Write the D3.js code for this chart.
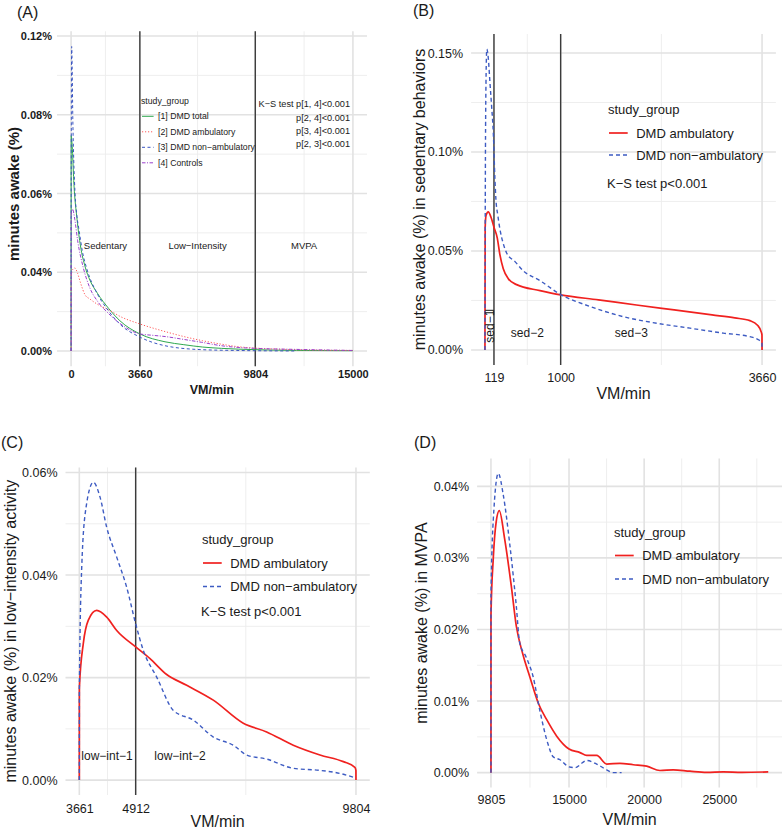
<!DOCTYPE html>
<html><head><meta charset="utf-8">
<script src="https://cdn.jsdelivr.net/npm/d3@7"></script>
<style>
body{margin:0;background:#fff}
text{font-family:"Liberation Sans",Arial,Helvetica,sans-serif;fill:#1a1a1a}
</style>
</head><body>
<svg id="chart" width="782" height="832"></svg>
<script>
// ---------------- DATA ----------------
// Panel A (all groups, full VM/min range)
const aGroups = ["[1] DMD total","[2] DMD ambulatory","[3] DMD non\u2212ambulatory","[4] Controls"];
const aTotalX   = [0,5,60,140,320,500,750,1000,1400,2000,2600,3660,5000,6000,7000,8000,9804,12000,15000];
const aTotalY   = [0,0.082,0.078,0.065,0.050,0.040,0.032,0.027,0.022,0.0162,0.0115,0.0065,0.0035,0.0024,0.0015,0.001,0.0005,0.0002,0.0001];
const aAmbX     = [0,5,80,200,350,500,750,1000,1400,2000,2600,3660,5000,6000,7000,8000,8800,9804,11000,12500,15000];
const aAmbY     = [0,0.0285,0.031,0.0316,0.0295,0.026,0.0213,0.0198,0.0178,0.0157,0.0132,0.0103,0.0074,0.0055,0.0039,0.0026,0.0017,0.0011,0.0007,0.0004,0.0002];
const aNonX     = [0,3,30,100,210,300,425,600,850,1380,1960,2600,3660,5000,6950,8800,9804,12000];
const aNonY     = [0,0.05,0.116,0.085,0.060,0.052,0.046,0.038,0.031,0.022,0.0156,0.0102,0.0053,0.002,0.0005,0.0002,0.0001,0];
const aCtrlX    = [0,5,80,200,350,640,1000,1400,1960,2600,3660,4300,5000,6000,6950,8000,8800,9804,12000,15000];
const aCtrlY    = [0,0.052,0.054,0.050,0.042,0.032,0.024,0.019,0.0145,0.0105,0.0065,0.006,0.0055,0.0044,0.0033,0.002,0.0014,0.001,0.0006,0.0002];
const aXTicks   = [0,3660,9804,15000];
const aXMinor   = [1830,6732,12402];
const aYTicks   = [0,0.03,0.06,0.09,0.12];
const aYLabels  = ["0.00%","0.04%","0.06%","0.08%","0.12%"];
const aYMinor   = [0.015,0.045,0.075,0.105];
const aCuts     = [3660,9804];
const aZones    = ["Sedentary","Low\u2212Intensity","MVPA"];
const aKS       = ["K\u2212S test p[1, 4]<0.001","p[2, 4]<0.001","p[3, 4]<0.001","p[2, 3]<0.001"];

// Panel B (sedentary)
const bAmbX = [0,3,15,44,80,119,163,198,242,308,418,727,1000,1500,2000,2500,3000,3300,3500,3600,3650,3659,3660];
const bAmbY = [0,0.062,0.068,0.0697,0.067,0.062,0.0565,0.048,0.041,0.036,0.033,0.030,0.0278,0.0253,0.0227,0.0202,0.0177,0.0162,0.0148,0.0125,0.009,0.0076,0];
const bNonX = [0,2,12,25,45,66,90,110,132,145,170,198,240,286,400,506,727,1000,1387,1828,2268,2708,3148,3500,3620,3659,3660];
const bNonY = [0,0.04,0.13,0.152,0.147,0.135,0.122,0.110,0.086,0.076,0.068,0.061,0.054,0.049,0.0445,0.040,0.035,0.028,0.022,0.0168,0.0135,0.011,0.0085,0.0067,0.005,0.0034,0];
const bXTicks = [119,1000,3660];
const bXMinor = [559.5,2330];
const bYTicks = [0,0.05,0.10,0.15];
const bYLabels = ["0.00%","0.05%","0.10%","0.15%"];
const bYMinor = [0.025,0.075,0.125];
const bCuts = [119,1000];
const bZones = ["sed\u22121","sed\u22122","sed\u22123"];

// Panel C (low intensity)
const cAmbX = [3661,3662,3750,3861,4047,4269,4491,4912,5231,5601,6045,6636,7302,7821,8412,9005,9524,9780,9803,9804];
const cAmbY = [0,0.018,0.0267,0.0312,0.0331,0.0318,0.0292,0.0260,0.0237,0.0206,0.0185,0.0156,0.0111,0.0094,0.0068,0.0049,0.0036,0.0025,0.0019,0];
const cNonX = [3661,3662,3714,3810,3972,4121,4269,4491,4713,4912,5082,5379,5749,6192,6636,7080,7376,7821,8412,9005,9450,9804];
const cNonY = [0,0.018,0.0415,0.0532,0.0581,0.0552,0.0493,0.0435,0.0376,0.0305,0.0253,0.0201,0.0136,0.0117,0.0084,0.0068,0.0049,0.0041,0.0023,0.0019,0.0013,0.0004];
const cXTicks = [3661,4912,9804];
const cXMinor = [4286.5,7358];
const cYTicks = [0,0.02,0.04,0.06];
const cYLabels = ["0.00%","0.02%","0.04%","0.06%"];
const cYMinor = [0.01,0.03,0.05];
const cCuts = [4912];
const cZones = ["low\u2212int\u22121","low\u2212int\u22122"];

// Panel D (MVPA)
const dAmbX = [9805,9806,9960,10150,10358,10713,11157,11490,11933,12405,12957,13517,14182,15000,15732,16178,16843,17508,18393,19280,20170,21055,21939,23050,24160,25270,26500,28260];
const dAmbY = [0,0.022,0.030,0.035,0.0366,0.0327,0.0261,0.0205,0.0165,0.0133,0.0097,0.0074,0.0051,0.0033,0.0028,0.0024,0.0024,0.0012,0.0013,0.0011,0.0009,0.0003,0.0004,0.0002,0.00005,0.0001,0.00005,0.0001];
const dNonX = [9805,9806,10005,10292,10624,11068,11490,11712,12156,12600,13046,13517,13955,14400,15000,15400,16178,16843,17508,17950,18500];
const dNonY = [0,0.025,0.0369,0.0418,0.0388,0.0317,0.0233,0.0182,0.0161,0.0135,0.0088,0.0046,0.0022,0.0018,0.0008,0.0007,0.0017,0.0012,0.0004,0,0];
const dXTicks = [9805,15000,20000,25000];
const dXMinor = [12402.5,17500,22500,27500];
const dYTicks = [0,0.01,0.02,0.03,0.04];
const dYLabels = ["0.00%","0.01%","0.02%","0.03%","0.04%"];
const dYMinor = [0.005,0.015,0.025,0.035];

const groups2 = ["DMD ambulatory","DMD non\u2212ambulatory"];
const ksText = "K\u2212S test p<0.001";
const xTitle = "VM/min";

// ---------------- DRAW ----------------
const svg = d3.select("#chart");
const RED = "#f0211f", BLUE = "#3d5bc2";
const zip = (xs, ys) => xs.map((v,i)=>[v, ys[i]]);
const expand = (a,b) => [a-(b-a)*0.05, b+(b-a)*0.05];

function panel(c){
  const g = svg.append("g");
  const x = d3.scaleLinear().domain(expand(...c.xExt)).range([c.left, c.right]);
  const y = d3.scaleLinear().domain(expand(...c.yExt)).range([c.bottom, c.top]);
  const grid = g.append("g");
  c.xMinor.forEach(v=>grid.append("line").attr("x1",x(v)).attr("x2",x(v)).attr("y1",c.top).attr("y2",c.bottom).attr("stroke","#ececec").attr("stroke-width",0.9));
  c.yMinor.forEach(v=>grid.append("line").attr("y1",y(v)).attr("y2",y(v)).attr("x1",c.left).attr("x2",c.right).attr("stroke","#ececec").attr("stroke-width",0.9));
  c.xTicks.forEach(v=>grid.append("line").attr("x1",x(v)).attr("x2",x(v)).attr("y1",c.top).attr("y2",c.bottom).attr("stroke","#e2e2e2").attr("stroke-width",1.6));
  c.yTicks.forEach(v=>grid.append("line").attr("y1",y(v)).attr("y2",y(v)).attr("x1",c.left).attr("x2",c.right).attr("stroke","#e2e2e2").attr("stroke-width",1.6));

  // axes
  const xa = d3.axisBottom(x).tickValues(c.xTicks).tickSize(0).tickPadding(c.xPad).tickFormat(d3.format("d"));
  const gx = g.append("g").attr("transform",`translate(0,${c.bottom})`).call(xa);
  const ya = d3.axisLeft(y).tickValues(c.yTicks).tickSize(0).tickPadding(c.yPad).tickFormat((d,i)=>c.yLabels[i]);
  const gy = g.append("g").attr("transform",`translate(${c.left},0)`).call(ya);
  [gx,gy].forEach(a=>{a.select(".domain").remove(); a.selectAll("text").attr("font-family",null).style("font-size",c.tickFs+"px").style("font-weight",c.bold?"bold":"normal").attr("fill","#1a1a1a");});

  // titles
  g.append("text").attr("x",(c.left+c.right)/2).attr("y",c.xTitleY).attr("dy","0.35em").attr("text-anchor","middle")
    .style("font-size",c.titleFs+"px").style("font-weight",c.bold?"bold":"normal").text(xTitle);
  g.append("text").attr("transform",`translate(${c.yTitleX},${c.yTitleY||(c.top+c.bottom)/2}) rotate(-90)`).attr("text-anchor","middle").attr("dy","0.35em")
    .style("font-size",c.yTitleFs+"px").style("font-weight",c.bold?"bold":"normal").text(c.yTitle);
  g.append("text").attr("x",c.tagX).attr("y",c.tagY).attr("dy","0.35em").style("font-size","16px").text(c.tag);

  // cut lines
  (c.cuts||[]).forEach(v=>g.append("line").attr("x1",x(v)).attr("x2",x(v)).attr("y1",c.top).attr("y2",c.bottom).attr("stroke","#3b3b3b").attr("stroke-width",1.4));

  // series
  const line = d3.line().x(d=>x(d[0])).y(d=>y(d[1])).curve(d3.curveMonotoneX);
  c.series.forEach(s=>{
    g.append("path").datum(zip(s.x,s.y)).attr("d",line).attr("fill","none").attr("stroke",s.color)
      .attr("stroke-width",s.w).attr("stroke-dasharray",s.dash||null);
  });
  return {g,x,y};
}

function legend(g, lx, ly, fs, keyLen, gap, rowH, names, series, titleGap){
  g.append("text").attr("x",lx).attr("y",ly).attr("dy","0.35em").style("font-size",fs+"px").text("study_group");
  names.forEach((n,i)=>{
    const yy = ly + titleGap + i*rowH;
    const s = series[i];
    g.append("line").attr("x1",lx+1).attr("x2",lx+1+keyLen).attr("y1",yy).attr("y2",yy).attr("stroke",s.color).attr("stroke-width",s.w).attr("stroke-dasharray",s.dash||null);
    g.append("text").attr("x",lx+1+keyLen+gap).attr("y",yy).attr("dy","0.35em").style("font-size",fs+"px").text(n);
  });
}

// ---- Panel A
const aSeries = [
  {x:aTotalX,y:aTotalY,color:"#2fa84f",w:1,dash:null},
  {x:aAmbX,y:aAmbY,color:"#ff5a5a",w:1,dash:"1.2,1.8"},
  {x:aNonX,y:aNonY,color:"#3a55c2",w:1,dash:"3,2.5"},
  {x:aCtrlX,y:aCtrlY,color:"#9a40cc",w:1,dash:"3.5,1.5,1,1.5"}
];
const A = panel({left:57,right:367,top:31.3,bottom:366.2,xExt:[0,15000],yExt:[0,0.116],
  xTicks:aXTicks,xMinor:aXMinor,yTicks:aYTicks,yLabels:aYLabels,yMinor:aYMinor,cuts:aCuts,
  series:aSeries,xPad:4,yPad:5,tickFs:11,titleFs:12.5,yTitleFs:15,bold:true,xTitleY:390,yTitleX:14,yTitleY:194,
  yTitle:"minutes awake (%)",tag:"(A)",tagX:17,tagY:12});
legend(A.g,141,101.3,8.7,11.6,4.5,15.5,aGroups,aSeries,15);
aKS.forEach((t,i)=>A.g.append("text").attr("x",350).attr("y",104+i*13.4).attr("dy","0.35em").attr("text-anchor","end").style("font-size","9.2px").text(t));
[[0,3660],[3660,9804],[9804,15000]].forEach((r,i)=>{
  A.g.append("text").attr("x",A.x((r[0]+r[1])/2)).attr("y",246).attr("dy","0.35em").attr("text-anchor","middle").style("font-size","9.5px").text(aZones[i]);
});

// ---- Panel B
const bSeries = [
  {x:bAmbX,y:bAmbY,color:RED,w:1.7,dash:null},
  {x:bNonX,y:bNonY,color:BLUE,w:1.4,dash:"4,3"}
];
const B = panel({left:471.1,right:775.9,top:34,bottom:365,xExt:[0,3660],yExt:[0,0.152],
  xTicks:bXTicks,xMinor:bXMinor,yTicks:bYTicks,yLabels:bYLabels,yMinor:bYMinor,cuts:bCuts,
  series:bSeries,xPad:8,yPad:8,tickFs:12.5,titleFs:16,yTitleFs:16,bold:false,xTitleY:393,yTitleX:419,
  yTitle:"minutes awake (%) in sedentary behaviors",tag:"(B)",tagX:413,tagY:10});
legend(B.g,608,109,13,18.7,8.5,22,groups2,bSeries,24);
B.g.append("text").attr("x",607).attr("y",183).attr("dy","0.35em").style("font-size","13px").text(ksText);
// sed labels
B.g.append("line").attr("x1",B.x(0)).attr("x2",B.x(119)).attr("y1",B.y(0.02)).attr("y2",B.y(0.02)).attr("stroke","#3b3b3b").attr("stroke-width",1.2);
B.g.append("text").attr("transform",`translate(${B.x(59.5)},${(B.y(0.02)+B.y(0))/2-4}) rotate(-90)`).attr("text-anchor","middle").attr("dy","0.35em").style("font-size","12px").text(bZones[0]);
B.g.append("text").attr("x",B.x(559.5)).attr("y",333).attr("dy","0.35em").attr("text-anchor","middle").style("font-size","12px").text(bZones[1]);
B.g.append("text").attr("x",B.x(2000)-5).attr("y",333).attr("dy","0.35em").attr("text-anchor","middle").style("font-size","12px").text(bZones[2]);

// ---- Panel C
const cSeries = [
  {x:cAmbX,y:cAmbY,color:RED,w:1.7,dash:null},
  {x:cNonX,y:cNonY,color:BLUE,w:1.4,dash:"4,3"}
];
const C = panel({left:65.5,right:369.8,top:467.4,bottom:795,xExt:[3661,9804],yExt:[0,0.0581],
  xTicks:cXTicks,xMinor:cXMinor,yTicks:cYTicks,yLabels:cYLabels,yMinor:cYMinor,cuts:cCuts,
  series:cSeries,xPad:9,yPad:8,tickFs:12.5,titleFs:16,yTitleFs:16,bold:false,xTitleY:821,yTitleX:10,
  yTitle:"minutes awake (%) in low\u2212intensity activity",tag:"(C)",tagX:1,tagY:442});
legend(C.g,202,539,13,18.7,8.5,23.5,groups2,cSeries,24);
C.g.append("text").attr("x",201).attr("y",611).attr("dy","0.35em").style("font-size","13px").text(ksText);
C.g.append("text").attr("x",107).attr("y",756).attr("dy","0.35em").attr("text-anchor","middle").style("font-size","12px").text(cZones[0]);
C.g.append("text").attr("x",180).attr("y",756).attr("dy","0.35em").attr("text-anchor","middle").style("font-size","12px").text(cZones[1]);

// ---- Panel D
const dSeries = [
  {x:dAmbX,y:dAmbY,color:RED,w:1.7,dash:null},
  {x:dNonX,y:dNonY,color:BLUE,w:1.4,dash:"4,3"}
];
const D = panel({left:477.1,right:782.1,top:458.5,bottom:787.6,xExt:[9805,28260],yExt:[0,0.0418],
  xTicks:dXTicks,xMinor:dXMinor,yTicks:dYTicks,yLabels:dYLabels,yMinor:dYMinor,cuts:[],
  series:dSeries,xPad:8,yPad:8,tickFs:12.5,titleFs:16,yTitleFs:16,bold:false,xTitleY:819,yTitleX:421,
  yTitle:"minutes awake (%) in MVPA",tag:"(D)",tagX:414,tagY:442});
legend(D.g,614,532,13,18.7,8.5,23.5,groups2,dSeries,23.5);
</script>
</body></html>
